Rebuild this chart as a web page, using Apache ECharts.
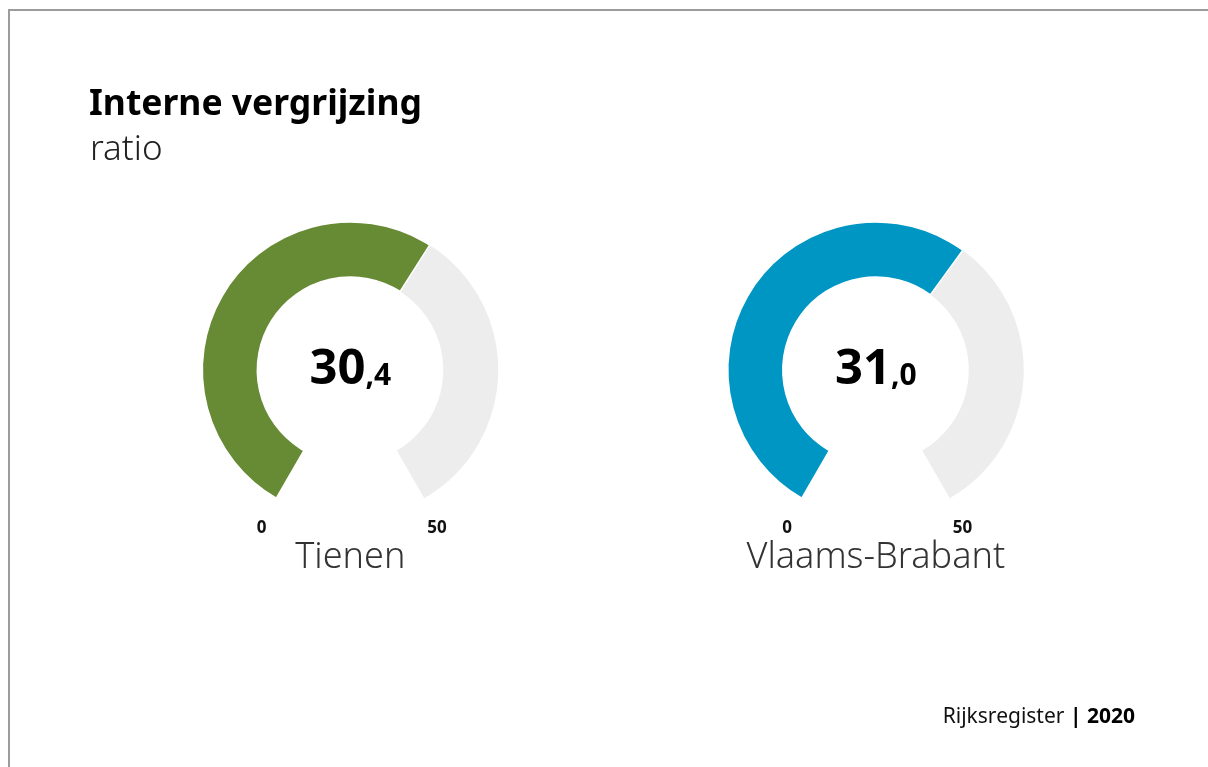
<!DOCTYPE html>
<html>
<head>
<meta charset="utf-8">
<script src="https://cdn.jsdelivr.net/npm/echarts@6/dist/echarts.min.js"></script>
<style>
  html, body { margin: 0; padding: 0; background: #fff; }
  #chart { width: 1208px; height: 767px; }
  /* grijze kader links/boven */
  .frame { position: absolute; left: 8px; top: 9px; width: 1300px; height: 900px;
           border-left: 2px solid #9c9c9c; border-top: 2px solid #9c9c9c; pointer-events: none; }
</style>
</head>
<body>
<div id="chart"></div>
<div class="frame"></div>
<script>
// data
const regions = ['Tienen', 'Vlaams-Brabant'];
const values = [30.4, 31.0];
const colors = ['#678a34', '#0096c4'];
const axisMin = 0;
const axisMax = 50;
const centersX = ['29%', '72.5%'];

const FONT = '"Source Sans Pro", "Noto Sans", sans-serif';

function fmt(v) {
  const parts = v.toFixed(1).split('.');
  return '{big|' + parts[0] + '}{small|,' + parts[1] + '}';
}

const chart = echarts.init(document.getElementById('chart'));

const series = regions.map((name, i) => ({
  type: 'gauge',
  center: [centersX[i], 370],
  radius: 148,
  startAngle: 240,
  endAngle: -60,
  min: axisMin,
  max: axisMax,
  splitNumber: 1,
  pointer: { show: false },
  anchor: { show: false },
  progress: {
    show: true,
    width: 55,
    itemStyle: { color: colors[i], borderColor: '#fff', borderWidth: 1.5 }
  },
  axisLine: { lineStyle: { width: 55, color: [[1, '#ededed']] } },
  axisTick: { show: false },
  splitLine: { show: false, length: 0, distance: 0 },
  axisLabel: {
    distance: -45,
    color: '#111',
    fontFamily: FONT,
    fontWeight: 'bold',
    fontSize: 17,
    align: 'center',
    verticalAlign: 'middle',
    padding: [4, 0, 0, 3]
  },
  title: {
    offsetCenter: [0, 188],
    color: '#333',
    fontFamily: FONT,
    fontWeight: 300,
    fontSize: 36
  },
  detail: {
    offsetCenter: [0, 0],
    formatter: fmt,
    rich: {
      big: { fontSize: 49, fontWeight: 'bold', color: '#000', fontFamily: FONT },
      small: { fontSize: 30, fontWeight: 'bold', color: '#000', fontFamily: FONT, padding: [13, 0, 0, 0] }
    }
  },
  data: [{ value: values[i], name: name }]
}));

chart.setOption({
  backgroundColor: '#fff',
  animation: false,
  title: [
    {
      text: 'Interne vergrijzing',
      left: 84, top: 82,
      textStyle: { fontFamily: FONT, fontWeight: 'bold', fontSize: 35.5, color: '#000' }
    },
    {
      text: 'ratio',
      left: 85, top: 128,
      textStyle: { fontFamily: FONT, fontWeight: 300, fontSize: 35, color: '#222' }
    },
    {
      text: '{n|Rijksregister }{b|| 2020}',
      right: 68, top: 702,
      textStyle: {
        rich: {
          n: { fontFamily: FONT, fontSize: 21, fontWeight: 'normal', color: '#111' },
          b: { fontFamily: FONT, fontSize: 21, fontWeight: 'bold', color: '#000' }
        }
      }
    }
  ],
  series: series
});
</script>
</body>
</html>
